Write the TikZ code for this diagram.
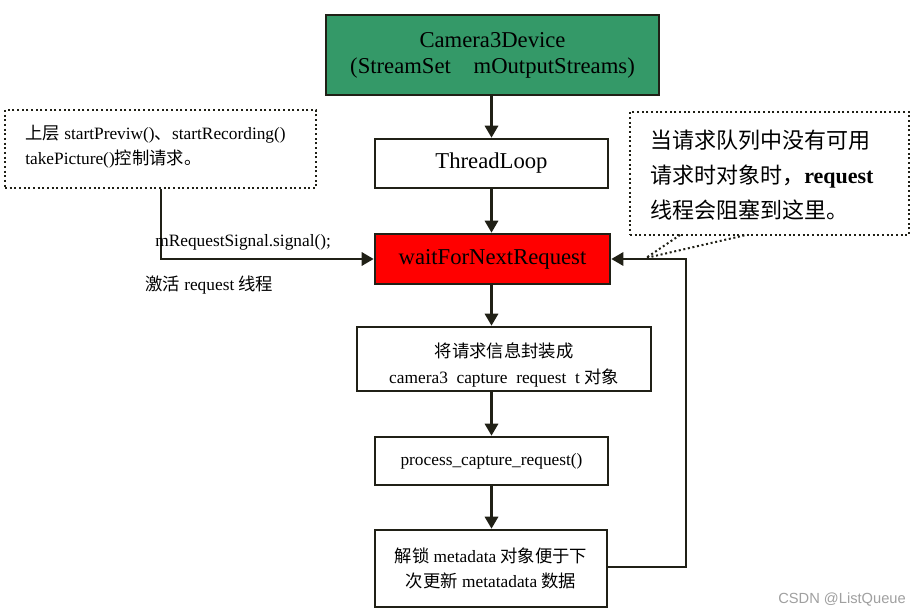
\documentclass[tikz,border=0pt]{standalone}
\usepackage{fontspec}
\setmainfont{Liberation Serif}
\newfontfamily\cjk{Noto Sans CJK SC}
\newfontfamily\wmfont{Liberation Sans}
\usetikzlibrary{arrows.meta}
\definecolor{boxgreen}{RGB}{52,153,104}
\definecolor{ln}{RGB}{32,32,22}
\definecolor{wmgray}{RGB}{160,160,160}
\begin{document}
\begin{tikzpicture}[x=0.75pt,y=-0.75pt,
  box/.style={draw=ln,line width=2pt,rectangle,inner sep=0pt,align=center},
  big/.style={font=\fontsize{17}{19.5}\selectfont},
  small/.style={font=\fontsize{13}{19}\selectfont},
  arr/.style={draw=ln,line width=1.7pt,-{Triangle[width=10pt,length=9pt]}},
  note/.style={draw=ln,dotted,line width=1.5pt,inner sep=0pt,rectangle}]
\useasboundingbox (0,0) rectangle (923,616);
\fill[white] (0,0) rectangle (923,616);

% main boxes
\node[box,big,fill=boxgreen,minimum width=249.75pt,minimum height=60pt] (cam) at (492.5,55) {Camera3Device\\(StreamSet\quad mOutputStreams)};
\node[box,big,fill=white,minimum width=174.75pt,minimum height=36.75pt] (tl) at (491.5,163.5) {ThreadLoop};
\node[box,big,fill=red,minimum width=176.25pt,minimum height=37.5pt] (wait) at (492.5,259) {waitForNextRequest};
\node[box,fill=white,minimum width=220.5pt,minimum height=48pt] (pack) at (504,359) {};
\node[small,align=center,inner sep=0pt] (packtxt) at (504,365) {{\cjk 将请求信息封装成}\\camera3\enspace capture\enspace request\enspace t {\cjk 对象}};
\node[box,small,fill=white,minimum width=174.75pt,minimum height=36pt] (proc) at (491.5,461) {process\_capture\_request()};
\node[box,small,fill=white,minimum width=174pt,minimum height=57.75pt] (unl) at (491,568.5) {{\cjk 解锁} metadata {\cjk 对象便于下}\\{\cjk 次更新} metatadata {\cjk 数据}};

% vertical arrows
\draw[arr] (cam.south -| tl.north) -- (tl.north);
\draw[arr] (tl.south) -- (tl.south |- wait.north);
\draw[arr] (tl.south |- wait.south) -- (tl.south |- pack.north);
\draw[arr] (tl.south |- pack.south) -- (proc.north);
\draw[arr] (proc.south) -- (proc.south |- unl.north);

% feedback loop
\coordinate (fbb) at (686,567);
\coordinate (fbt) at (686,259);
\draw[arr] (unl.east |- fbb) -- (fbb) -- (fbt) -- (wait.east);

% left note
\node[note,minimum width=233.25pt,minimum height=58.5pt] (lnote) at (160.5,149) {};
\node[small,anchor=west,align=left,inner sep=0pt] (ltext) at (25,147) {{\cjk 上层} startPreviw(){\cjk 、}startRecording()\\takePicture(){\cjk 控制请求。}};
\coordinate (lc) at (161,259);
\draw[arr] (lnote.south -| lc) -- (lc) -- (wait.west);
\node[small,anchor=west,inner sep=0pt] (sig) at (155,242) {mRequestSignal.signal();};
\node[small,anchor=west,inner sep=0pt] (act) at (145,285) {{\cjk 激活} request {\cjk 线程}};

% right callout
\node[note,fill=white,minimum width=209.25pt,minimum height=92.25pt] (cnote) at (769.5,173.5) {};
\node[anchor=west,align=left,inner sep=0pt,font=\fontsize{16.5}{26.25}\selectfont] (ctext) at (650,175) {{\cjk 当请求队列中没有可用}\\{\cjk 请求时对象时，}\textbf{request}\\{\cjk 线程会阻塞到这里。}};
\coordinate (tip) at (646,258);
\coordinate (pa) at (680,235);
\coordinate (pb) at (746,235);
\draw[ln,dotted,line width=1.5pt] (pa) -- (tip) -- (pb);

% watermark
\node[anchor=east,inner sep=0pt,text=wmgray,font=\wmfont\fontsize{11}{13}\selectfont] (wm) at (906,600) {CSDN @ListQueue};
\end{tikzpicture}
\end{document}
